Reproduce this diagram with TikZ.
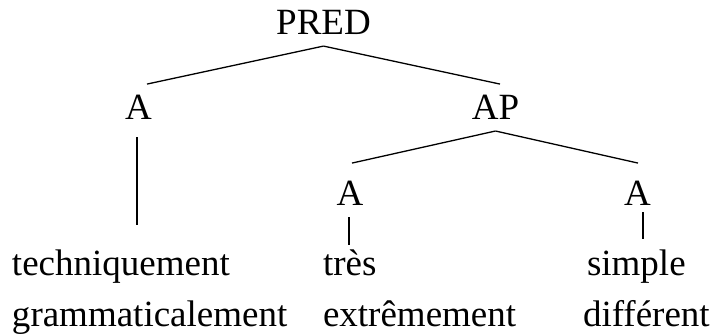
\documentclass[tikz,border=0pt]{standalone}
\usepackage{fontspec}
\setmainfont{Liberation Serif}
\begin{document}
\begin{tikzpicture}[x=1pt,y=-1pt,
  every node/.style={inner sep=0pt, outer sep=0pt, font=\fontsize{37}{51}\selectfont},
  edge/.style={line width=1.3pt}]
\useasboundingbox (0,0) rectangle (711,335);
\node[anchor=base] (pred) at (323.5,34) {PRED};
\node[anchor=base] (a1) at (138.5,119) {A};
\node[anchor=base] (ap) at (495.5,119) {AP};
\node[anchor=base] (a2) at (350,205) {A};
\node[anchor=base] (a3) at (637.5,205) {A};
\node[anchor=base west] (tech) at (12,275) {techniquement};
\node[anchor=base west] (gram) at (12,326) {grammaticalement};
\node[anchor=base west] (tres) at (323,275) {très};
\node[anchor=base west] (extr) at (323,326) {extrêmement};
\node[anchor=base west] (simp) at (587,275) {simple};
\node[anchor=base west] (diff) at (583,326) {différent};
\draw[edge] ([yshift=-12pt]pred.south) -- ([xshift=8.5pt,yshift=10.5pt]a1.north);
\draw[edge] ([yshift=-12pt]pred.south) -- ([xshift=4.5pt,yshift=10.5pt]ap.north);
\draw[edge] ([xshift=-1.5pt,yshift=-18pt]a1.south) -- ([xshift=-1.5pt,yshift=24.5pt]a1.south |- tech.north);
\draw[edge] ([yshift=-12pt]ap.south) -- ([xshift=2pt,yshift=17.5pt]a2.north);
\draw[edge] ([yshift=-12pt]ap.south) -- ([xshift=0.5pt,yshift=17.5pt]a3.north);
\draw[edge] ([xshift=-1pt,yshift=-12pt]a2.south) -- ([xshift=-1pt,yshift=4pt]a2.south |- tres.north);
\draw[edge] ([xshift=5.5pt,yshift=-7pt]a3.south) -- ([xshift=5.5pt,yshift=10.7pt]a3.south |- simp.north);
\end{tikzpicture}
\end{document}
